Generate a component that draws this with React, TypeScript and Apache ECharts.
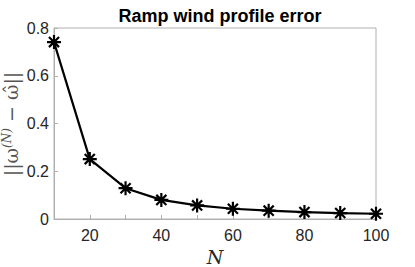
import React, { useEffect, useRef } from "react";
import * as echarts from "echarts";

const nValues = [10, 20, 30, 40, 50, 60, 70, 80, 90, 100];
const errValues = [0.741, 0.251, 0.129, 0.08, 0.057, 0.043, 0.035, 0.029, 0.025, 0.022];
const titleText = "Ramp wind profile error";
const yName = "{n|||ω}{s|(N)}{n| − ω̂||}";

export default function App() {
  const ref = useRef<HTMLDivElement>(null);
  useEffect(() => {
    const chart = echarts.init(ref.current!, null, { renderer: "svg" });
    const axisColor = "#b0b0b0";
    const labelColor = "#262626";
    const font = "Liberation Sans, Arial, sans-serif";
    const serif = "DejaVu Serif, Liberation Serif, serif";
    chart.setOption({
      animation: false,
      backgroundColor: "#fff",
      title: {
        text: titleText,
        left: 215,
        textAlign: "center",
        top: 2,
        textStyle: { fontFamily: font, fontWeight: "bold", fontSize: 18, color: "#000" },
      },
      grid: { left: 54, right: 39, top: 28, bottom: 48, containLabel: false, outerBoundsMode: "none" },
      xAxis: {
        type: "value",
        min: 10,
        max: 100,
        interval: 10,
        name: "N",
        nameLocation: "middle",
        nameGap: 28,
        nameTextStyle: { fontFamily: serif, fontStyle: "italic", fontSize: 19, color: labelColor },
        axisLine: { show: true, onZero: false, lineStyle: { color: axisColor, width: 1 } },
        axisTick: { show: true, inside: true, length: 4, lineStyle: { color: axisColor } },
        axisLabel: {
          color: labelColor,
          fontFamily: font,
          fontSize: 16,
          margin: 8,
          formatter: (v: number) => (v % 20 === 0 ? String(v) : ""),
        },
        splitLine: { show: false },
      },
      yAxis: {
        type: "value",
        min: 0,
        max: 0.8,
        interval: 0.2,
        axisLine: { show: true, lineStyle: { color: axisColor, width: 1 } },
        axisTick: { show: true, inside: true, length: 4, lineStyle: { color: axisColor } },
        axisLabel: {
          color: labelColor,
          fontFamily: font,
          fontSize: 16,
          margin: 5,
          formatter: (v: number) => (v === 0 ? "0" : v.toFixed(1)),
        },
        splitLine: { show: false },
      },
      graphic: [
        {
          type: "rect",
          shape: { x: 54, y: 28, width: 322, height: 191 },
          style: { fill: "none", stroke: axisColor, lineWidth: 1 },
          silent: true,
          z: 0,
        },
        {
          type: "text",
          x: 11,
          y: 124,
          rotation: Math.PI / 2,
          silent: true,
          style: {
            text: yName,
            align: "center",
            verticalAlign: "middle",
            fill: "#555",
            rich: {
              n: { fontFamily: serif, fontSize: 19, fill: "#555" },
              s: { fontFamily: serif, fontStyle: "italic", fontSize: 12, fill: "#555", verticalAlign: "top", padding: [0, 0, 8, 0] },
            },
          },
        },
      ],
      series: [
        {
          type: "line",
          data: nValues.map((n, i) => [n, errValues[i]]),
          lineStyle: { color: "#000", width: 2.2 },
          symbol: "path://M0,-5L0,5M-5,0L5,0M-3.6,-3.6L3.6,3.6M-3.6,3.6L3.6,-3.6",
          symbolSize: 14,
          itemStyle: { color: "#000", borderColor: "#000", borderWidth: 2.2 },
          clip: false,
          z: 5,
        },
      ],
    });
    return () => chart.dispose();
  }, []);
  return <div ref={ref} style={{ width: 415, height: 267, position: "absolute", left: 0, top: 0 }} />;
}
